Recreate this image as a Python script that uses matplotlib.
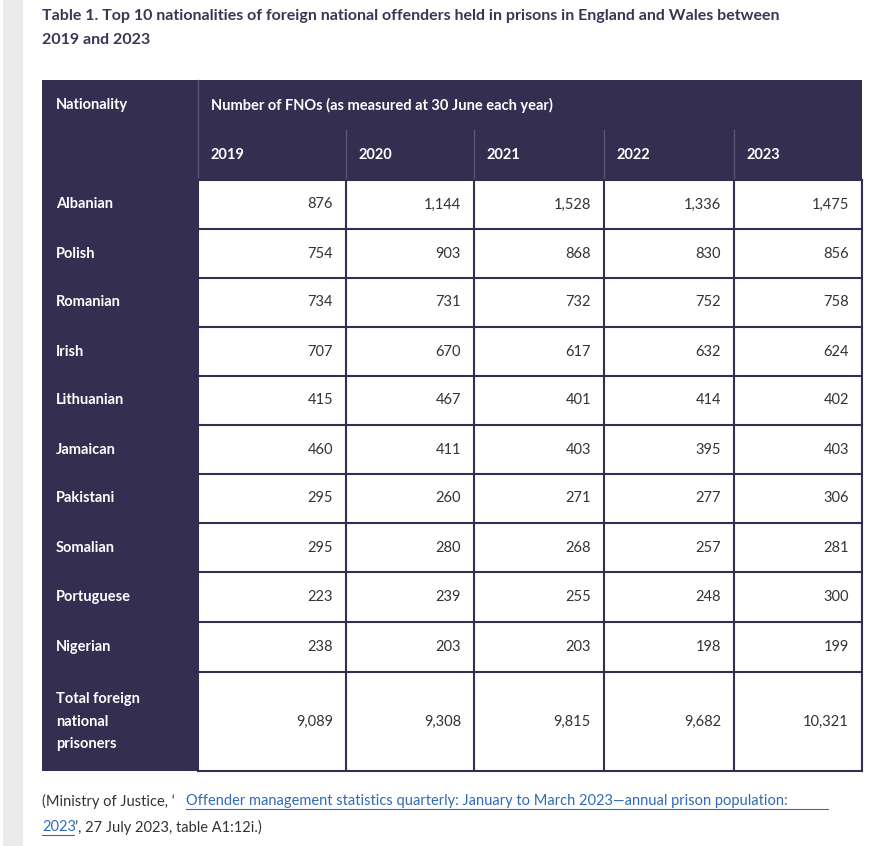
import matplotlib
matplotlib.use("Agg")
import matplotlib.pyplot as plt
from matplotlib.patches import Rectangle

nationalities = ["Albanian", "Polish", "Romanian", "Irish", "Lithuanian", "Jamaican",
                 "Pakistani", "Somalian", "Portuguese", "Nigerian", "Total foreign\nnational\nprisoners"]
years = ["2019", "2020", "2021", "2022", "2023"]
v2019 = [876, 754, 734, 707, 415, 460, 295, 295, 223, 238, 9089]
v2020 = [1144, 903, 731, 670, 467, 411, 260, 280, 239, 203, 9308]
v2021 = [1528, 868, 732, 617, 401, 403, 271, 268, 255, 203, 9815]
v2022 = [1336, 830, 752, 632, 414, 395, 277, 257, 248, 198, 9682]
v2023 = [1475, 856, 758, 624, 402, 403, 306, 281, 300, 199, 10321]
series = [v2019, v2020, v2021, v2022, v2023]

DARK = "#342e50"
TXT = "#3a3553"
plt.rcParams['font.family'] = ['Lato', 'DejaVu Sans']

fig = plt.figure(figsize=(8.86, 8.46), dpi=100)
ax = fig.add_axes([0, 0, 1, 1])
ax.set_xlim(0, 886); ax.set_ylim(846, 0); ax.axis("off")

ax.add_patch(Rectangle((3, 0), 20, 846, color="#ebebeb", lw=0))
ax.text(42, 16, "Table 1. Top 10 nationalities of foreign national offenders held in prisons in England and Wales between",
        fontsize=11.5, fontweight="bold", color=TXT, va="center")
ax.text(42, 40, "2019 and 2023", fontsize=11.5, fontweight="bold", color=TXT, va="center")

colx = [42, 198, 346, 474, 604, 734, 862]
rowy = [180, 229, 278, 327, 376, 425, 474, 523, 572, 622, 672, 771]
# header
ax.add_patch(Rectangle((42, 80), 820, 100, color=DARK, lw=0))
ax.add_patch(Rectangle((42, 180), 156, 591, color=DARK, lw=0))
ax.plot([198, 198], [80, 180], color="#5a5475", lw=1)
for x in colx[2:-1]:
    ax.plot([x, x], [130, 180], color="#5a5475", lw=1)
ax.text(56, 105, "Nationality", color="white", fontsize=10.5, fontweight="bold", va="center")
ax.text(211, 105, "Number of FNOs (as measured at 30 June each year)", color="white",
        fontsize=10.5, fontweight="bold", va="center")
for i, y in enumerate(years):
    ax.text(colx[i + 1] + 13, 155, y, color="white", fontsize=10.5, fontweight="bold", va="center")

for r, nat in enumerate(nationalities):
    y0, y1 = rowy[r], rowy[r + 1]
    ax.text(56, (y0 + y1) / 2, nat, color="white", fontsize=10.5, fontweight="bold",
            va="center", linespacing=1.75)
    for c, s in enumerate(series):
        ax.text(colx[c + 2] - 13, (y0 + y1) / 2, f"{s[r]:,}", color="#333333",
                fontsize=10.5, va="center", ha="right")
for y in rowy:
    ax.plot([198, 862], [y, y], color=DARK, lw=1.5)
for x in colx[1:]:
    ax.plot([x, x], [180, 771], color=DARK, lw=1.5)

ax.text(42, 801, "(Ministry of Justice, \u2018", fontsize=10.5, color="#333333", va="center")
ax.text(186, 801, "Offender management statistics quarterly: January to March 2023\u2014annual prison population:",
        fontsize=10.5, color="#2f6bb8", va="center")
ax.plot([186, 828], [809, 809], color="#2f6bb8", lw=0.8)
ax.text(42, 827, "2023", fontsize=10.5, color="#2f6bb8", va="center")
ax.plot([42, 74], [835, 835], color="#2f6bb8", lw=0.8)
ax.text(75, 827, "\u2019, 27 July 2023, table A1:12i.)", fontsize=10.5, color="#333333", va="center")

fig.savefig("out.png", dpi=100)
